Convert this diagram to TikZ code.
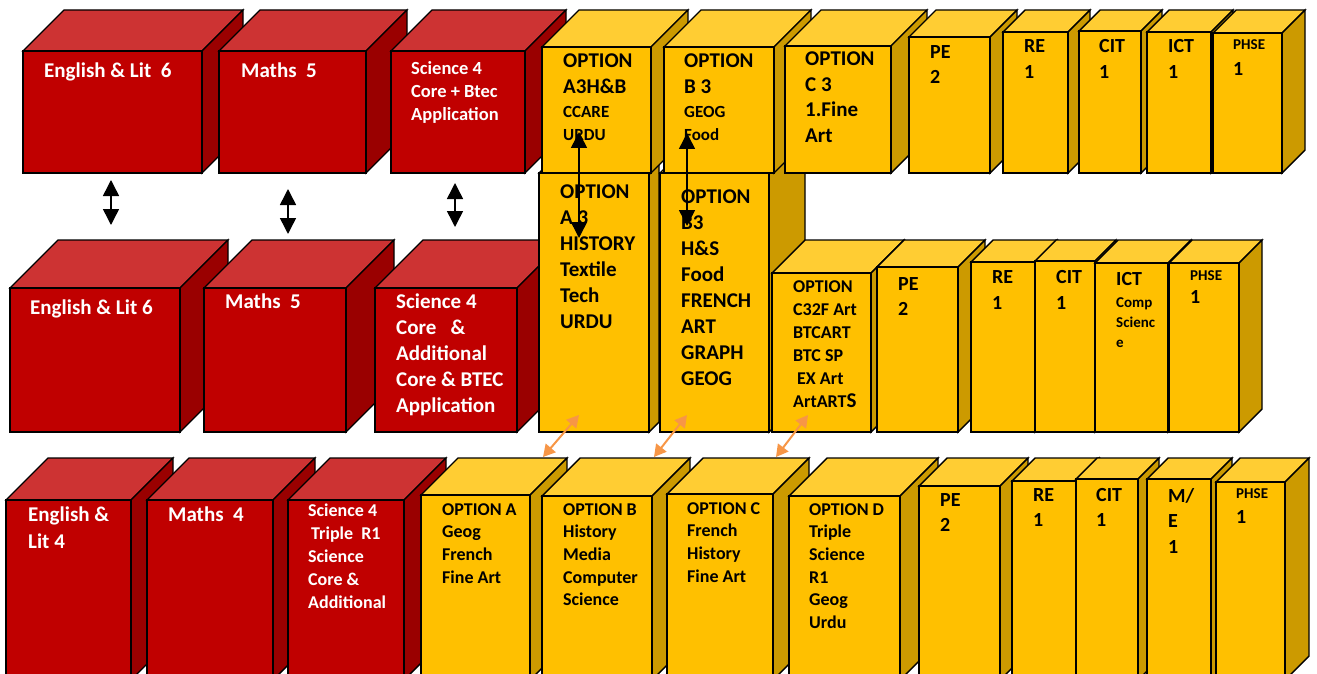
\documentclass[tikz,border=0pt]{standalone}
\usepackage{fontspec}
\setmainfont{Carlito}
\usetikzlibrary{arrows.meta}
\definecolor{redfr}{HTML}{C00000}
\definecolor{redtp}{HTML}{CD3333}
\definecolor{redsd}{HTML}{9A0000}
\definecolor{yelfr}{HTML}{FFC000}
\definecolor{yeltp}{HTML}{FFCD33}
\definecolor{yelsd}{HTML}{CC9A00}
\definecolor{orarr}{HTML}{F79646}
\tikzset{
  boxline/.style={draw=black, line width=1.4pt},
  wlabel/.style={anchor=north west, inner sep=0pt, align=left, text=white},
  blabel/.style={anchor=north west, inner sep=0pt, align=left, text=black},
  sz/.style 2 args={font=\bfseries\fontsize{#1}{#2}\selectfont},
  dblarrow/.style={line width=1.5pt, {Triangle[width=16pt,length=16pt]}-{Triangle[width=16pt,length=16pt]}},
  orarrow/.style={orarr, line width=2pt, {Triangle[width=13pt,length=12pt]}-{Triangle[width=13pt,length=12pt]}}
}
% one subject block: colour, front top left, front bottom right, depth
\newcommand{\subjbox}[6]{%
  \filldraw[boxline, fill=#1tp] (#2,#3) -- ({#2+#6},{#3-#6}) -- ({#4+#6},{#3-#6}) -- (#4,#3) -- cycle;
  \filldraw[boxline, fill=#1sd] (#4,#3) -- ({#4+#6},{#3-#6}) -- ({#4+#6},{#5-#6}) -- (#4,#5) -- cycle;
  \filldraw[boxline, fill=#1fr] (#2,#3) rectangle (#4,#5);
}
\begin{document}
\begin{tikzpicture}[x=1pt,y=-1pt]
\useasboundingbox (0,0) rectangle (1317,674);
\clip (0,0) rectangle (1317,674);
% Top row, core subjects
\subjbox{red}{23}{51}{202}{173}{41}
\subjbox{red}{219}{51}{366}{173}{41}
\subjbox{red}{391}{51}{525}{173}{41}
% Middle row, core subjects
\subjbox{red}{10}{288}{180}{432}{48}
\subjbox{red}{204}{288}{346}{432}{48}
\subjbox{red}{375}{288}{517}{432}{48}
% Bottom row, core subjects
\subjbox{red}{6}{500}{131}{680}{42}
\subjbox{red}{147}{500}{273}{680}{42}
\subjbox{red}{288}{500}{404}{680}{42}
% Tall option blocks (behind top row)
\subjbox{yel}{539}{173}{649}{432}{10}
\subjbox{yel}{660}{173}{769}{432}{36}
% Top row, options and others
\subjbox{yel}{542}{47}{651}{173}{37}
\subjbox{yel}{664}{47}{774}{173}{37}
\subjbox{yel}{785}{46}{891}{173}{36}
\subjbox{yel}{909}{37}{990}{173}{27}
\subjbox{yel}{1003}{32}{1068}{173}{22}
\subjbox{yel}{1079}{31}{1141}{173}{21}
\subjbox{yel}{1147}{32}{1211}{173}{22}
\subjbox{yel}{1213}{33}{1282}{173}{23}
% Middle row, options and others
\subjbox{yel}{772}{273}{871}{432}{33}
\subjbox{yel}{877}{267}{958}{432}{27}
\subjbox{yel}{971}{262}{1035}{432}{22}
\subjbox{yel}{1035}{261}{1095}{432}{21}
\subjbox{yel}{1095}{263}{1168}{432}{23}
\subjbox{yel}{1169}{263}{1239}{432}{23}
% Bottom row, options and others
\subjbox{yel}{421}{495}{530}{680}{37}
\subjbox{yel}{542}{496}{652}{680}{38}
\subjbox{yel}{667}{494}{773}{680}{36}
\subjbox{yel}{789}{496}{900}{680}{38}
\subjbox{yel}{919}{486}{1000}{680}{28}
\subjbox{yel}{1012}{481}{1076}{680}{23}
\subjbox{yel}{1076}{479}{1138}{680}{21}
\subjbox{yel}{1147}{479}{1211}{680}{21}
\subjbox{yel}{1216}{482}{1285}{680}{24}
% Labels, top row
\node[wlabel, sz={21}{25}] (engA) at (44,63) {English \& Lit~~6};
\node[wlabel, sz={21}{25}] (matA) at (241,63) {Maths~~5};
\node[wlabel, sz={18.5}{23}] (sciA) at (411,61) {Science 4\\Core + Btec\\Application};
\node[blabel, sz={21}{26}] (optAa) at (563,54) {OPTION\\A3H\&B};
\node[blabel, sz={17}{23}] (optAb) at (563,106) {CCARE\\URDU};
\node[blabel, sz={21}{26}] (optBa) at (684,54) {OPTION\\B 3};
\node[blabel, sz={17}{23}] (optBb) at (684,106) {GEOG\\Food};
\node[blabel, sz={21}{25.5}] (optC) at (805,52) {OPTION\\C 3\\1.Fine\\Art};
\node[blabel, sz={20}{25}] (peA) at (930,45) {PE\\2};
\node[blabel, sz={20}{26}] (reA) at (1024,39) {RE\\1};
\node[blabel, sz={20}{26}] (citA) at (1099,39) {CIT\\1};
\node[blabel, sz={20}{26}] (ictA) at (1168,39) {ICT\\1};
\node[blabel, sz={15}{20}] (phseA) at (1233,39) {PHSE};
\node[blabel, sz={20}{25}] (phseAn) at (1233,62) {1};
% Labels, middle row
\node[wlabel, sz={21}{26}] (engB) at (30,300) {English \& Lit 6};
\node[wlabel, sz={21}{26}] (matB) at (225,294) {Maths~~5};
\node[wlabel, sz={21}{26}] (sciB) at (396,294) {Science 4\\Core~~~\&\\Additional\\Core \& BTEC\\Application};
\node[blabel, sz={21}{26}] (optAc) at (560,185) {OPTION\\A 3\\HISTORY\\Textile\\Tech\\URDU};
\node[blabel, sz={21}{26}] (optBc) at (681,190) {OPTION\\B3\\H\&S\\Food\\FRENCH\\ART\\GRAPH\\GEOG};
\node[blabel, sz={18}{23}] (optCc) at (793,280) {OPTION\\C32F Art\\BTCART\\BTC SP\\\hspace{4pt}EX Art\\ArtART{\fontsize{21}{23}\selectfont S}};
\node[blabel, sz={20}{25}] (peB) at (898,277) {PE\\2};
\node[blabel, sz={20}{26}] (reB) at (992,270) {RE\\1};
\node[blabel, sz={20}{26}] (citB) at (1056,270) {CIT\\1};
\node[blabel, sz={20}{26}] (ictB) at (1116,272) {ICT};
\node[blabel, sz={15}{20}] (ictBb) at (1116,297) {Comp\\Scienc\\e};
\node[blabel, sz={15}{20}] (phseB) at (1190,270) {PHSE};
\node[blabel, sz={20}{25}] (phseBn) at (1190,290) {1};
% Labels, bottom row
\node[wlabel, sz={21}{26.5}] (engC) at (28,507) {English \&\\Lit 4};
\node[wlabel, sz={21}{26}] (matC) at (168,507) {Maths~~4};
\node[wlabel, sz={18}{23}] (sciC) at (308,504) {Science 4\\\hspace{3pt}Triple~~R1\\Science\\Core \&\\Additional};
\node[blabel, sz={18}{22.7}] (optAd) at (442,503) {OPTION A\\Geog\\French\\Fine Art};
\node[blabel, sz={18}{22.7}] (optBd) at (563,503) {OPTION B\\History\\Media\\Computer\\Science};
\node[blabel, sz={18}{22.7}] (optCd) at (687,502) {OPTION C\\French\\History\\Fine Art};
\node[blabel, sz={18}{22.7}] (optDd) at (809,503) {OPTION D\\Triple\\Science\\R1\\Geog\\Urdu};
\node[blabel, sz={20}{25}] (peC) at (940,493) {PE\\2};
\node[blabel, sz={20}{25}] (reC) at (1033,488) {RE\\1};
\node[blabel, sz={20}{25}] (citC) at (1096,488) {CIT\\1};
\node[blabel, sz={20}{25.5}] (meC) at (1168,488) {M/\\E\\1};
\node[blabel, sz={15}{20}] (phseC) at (1236,488) {PHSE};
\node[blabel, sz={20}{25}] (phseCn) at (1236,510) {1};
% Arrows between rows
\coordinate (engTop) at (111,180);
\coordinate (engBot) at (111,225);
\coordinate (matTop) at (288,189);
\coordinate (matBot) at (288,234);
\coordinate (sciTop) at (455,183);
\coordinate (sciBot) at (455,227);
\coordinate (opAtop) at (579,132);
\coordinate (opAbot) at (579,238);
\coordinate (opBtop) at (687,133);
\coordinate (opBbot) at (687,226);
\draw[dblarrow] (engTop) -- (engBot);
\draw[dblarrow] (matTop) -- (matBot);
\draw[dblarrow] (sciTop) -- (sciBot);
\draw[dblarrow] (opAtop) -- (opAbot);
\draw[dblarrow] (opBtop) -- (opBbot);
% Orange links to the bottom options
\coordinate (orAtop) at (579,415);
\coordinate (orAbot) at (543,457);
\coordinate (orBtop) at (687,415);
\coordinate (orBbot) at (654,457);
\coordinate (orCtop) at (808,415);
\coordinate (orCbot) at (776,457);
\draw[orarrow] (orAtop) -- (orAbot);
\draw[orarrow] (orBtop) -- (orBbot);
\draw[orarrow] (orCtop) -- (orCbot);
\end{tikzpicture}
\end{document}
